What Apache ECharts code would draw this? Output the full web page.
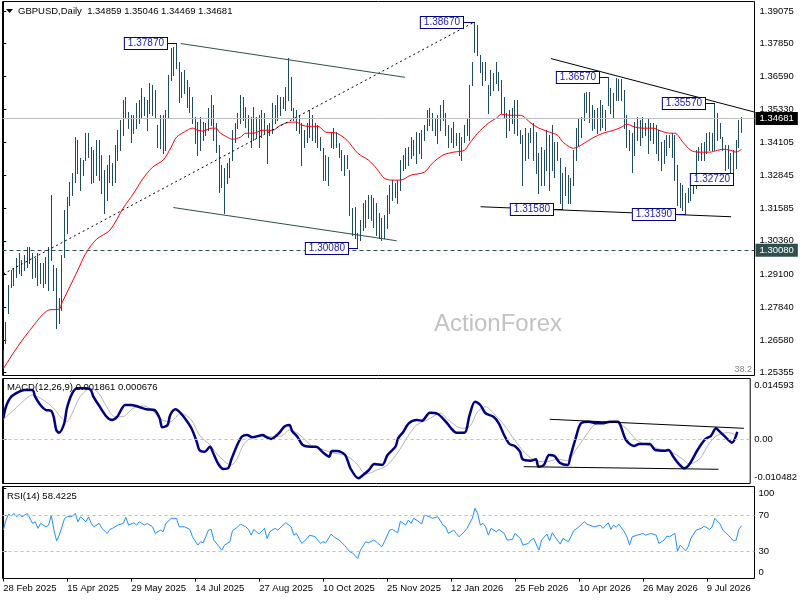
<!DOCTYPE html>
<html><head><meta charset="utf-8">
<script src="https://cdn.jsdelivr.net/npm/echarts@6/dist/echarts.min.js"></script>
<style>html,body{margin:0;padding:0;background:#fff}#c{width:800px;height:600px}</style>
</head><body><div id="c"></div>
<script>
// ---------- DATA ----------
const highs=[1.2621,1.2728,1.2868,1.2925,1.2932,1.2970,1.2989,1.2963,1.2982,1.3012,
1.3012,1.2989,1.2970,1.2989,1.2951,1.2951,1.2974,1.3012,1.3209,1.2944,
1.2932,1.2819,1.2982,1.3152,1.3201,1.3258,1.3292,1.3429,1.3417,1.3349,
1.3342,1.3444,1.3444,1.3391,1.3379,1.3417,1.3417,1.3361,1.3304,1.3323,
1.3361,1.3330,1.3398,1.3455,1.3493,1.3569,1.3580,1.3524,1.3512,1.3512,
1.3558,1.3569,1.3614,1.3580,1.3569,1.3633,1.3626,1.3607,1.3474,1.3512,
1.3512,1.3531,1.3664,1.3766,1.3770,1.3787,1.3713,1.3675,1.3683,1.3645,
1.3618,1.3580,1.3504,1.3486,1.3504,1.3486,1.3482,1.3539,1.3588,1.3550,
1.3482,1.3398,1.3323,1.3311,1.3330,1.3349,1.3455,1.3482,1.3520,1.3588,
1.3580,1.3543,1.3512,1.3504,1.3543,1.3504,1.3512,1.3531,1.3520,1.3474,
1.3482,1.3558,1.3550,1.3588,1.3580,1.3580,1.3618,1.3728,1.3656,1.3539,
1.3531,1.3512,1.3482,1.3455,1.3482,1.3531,1.3512,1.3482,1.3474,1.3429,
1.3387,1.3361,1.3353,1.3448,1.3463,1.3448,1.3406,1.3379,1.3361,1.3361,
1.3304,1.3160,1.3164,1.3065,1.3114,1.3179,1.3190,1.3209,1.3209,1.3198,
1.3179,1.3141,1.3122,1.3133,1.3209,1.3247,1.3266,1.3254,1.3266,1.3342,
1.3361,1.3387,1.3391,1.3429,1.3417,1.3448,1.3444,1.3455,1.3474,1.3531,
1.3539,1.3520,1.3501,1.3512,1.3550,1.3569,1.3520,1.3474,1.3463,1.3486,
1.3444,1.3444,1.3429,1.3474,1.3501,1.3626,1.3713,1.3867,1.3853,1.3740,
1.3713,1.3713,1.3626,1.3683,1.3671,1.3713,1.3675,1.3645,1.3580,1.3520,
1.3531,1.3539,1.3569,1.3569,1.3455,1.3436,1.3463,1.3444,1.3463,1.3482,
1.3448,1.3368,1.3391,1.3379,1.3455,1.3436,1.3474,1.3410,1.3410,1.3349,
1.3292,1.3315,1.3285,1.3273,1.3379,1.3463,1.3501,1.3504,1.3596,1.3599,
1.3599,1.3550,1.3531,1.3539,1.3569,1.3550,1.3531,1.3657,1.3615,1.3596,
1.3652,1.3648,1.3650,1.3607,1.3512,1.3455,1.3444,1.3486,1.3504,1.3493,
1.3504,1.3482,1.3501,1.3482,1.3482,1.3474,1.3455,1.3410,1.3417,1.3436,
1.3436,1.3444,1.3436,1.3323,1.3254,1.3247,1.3217,1.3236,1.3247,1.3292,
1.3379,1.3391,1.3406,1.3410,1.3444,1.3448,1.3444,1.3557,1.3520,1.3482,
1.3429,1.3398,1.3398,1.3368,1.3379,1.3417,1.3493,1.3505];
const lows=[1.2557,1.2648,1.2762,1.2860,1.2868,1.2898,1.2913,1.2906,1.2925,1.2936,
1.2951,1.2894,1.2898,1.2868,1.2875,1.2860,1.2875,1.2849,1.2963,1.2849,
1.2705,1.2724,1.2773,1.2974,1.3065,1.3171,1.3209,1.3258,1.3292,1.3228,
1.3285,1.3342,1.3353,1.3254,1.3258,1.3285,1.3266,1.3217,1.3141,1.3190,
1.3258,1.3247,1.3258,1.3342,1.3379,1.3436,1.3505,1.3463,1.3410,1.3444,
1.3463,1.3482,1.3501,1.3512,1.3455,1.3520,1.3512,1.3501,1.3391,1.3387,
1.3368,1.3379,1.3501,1.3645,1.3664,1.3690,1.3561,1.3580,1.3596,1.3542,
1.3524,1.3482,1.3406,1.3361,1.3379,1.3417,1.3436,1.3455,1.3474,1.3417,
1.3372,1.3220,1.3239,1.3141,1.3254,1.3277,1.3342,1.3410,1.3463,1.3482,
1.3493,1.3467,1.3429,1.3391,1.3417,1.3425,1.3391,1.3429,1.3444,1.3330,
1.3436,1.3444,1.3482,1.3493,1.3512,1.3539,1.3531,1.3569,1.3531,1.3493,
1.3455,1.3444,1.3323,1.3391,1.3410,1.3429,1.3417,1.3410,1.3391,1.3379,
1.3266,1.3266,1.3247,1.3391,1.3387,1.3391,1.3353,1.3304,1.3285,1.3311,
1.3133,1.3057,1.3046,1.3008,1.3038,1.3076,1.3088,1.3122,1.3114,1.3088,
1.3057,1.3046,1.3038,1.3046,1.3084,1.3141,1.3190,1.3201,1.3179,1.3228,
1.3304,1.3311,1.3323,1.3349,1.3361,1.3330,1.3368,1.3349,1.3417,1.3455,
1.3474,1.3455,1.3436,1.3406,1.3455,1.3493,1.3436,1.3391,1.3410,1.3391,
1.3398,1.3361,1.3342,1.3410,1.3436,1.3417,1.3626,1.3751,1.3740,1.3675,
1.3626,1.3645,1.3520,1.3588,1.3607,1.3633,1.3607,1.3520,1.3501,1.3429,
1.3455,1.3482,1.3444,1.3436,1.3406,1.3247,1.3342,1.3349,1.3410,1.3342,
1.3292,1.3217,1.3247,1.3247,1.3304,1.3228,1.3304,1.3277,1.3342,1.3179,
1.3158,1.3209,1.3179,1.3179,1.3247,1.3342,1.3398,1.3429,1.3493,1.3524,
1.3486,1.3455,1.3463,1.3444,1.3455,1.3467,1.3455,1.3550,1.3520,1.3501,
1.3569,1.3569,1.3569,1.3463,1.3391,1.3379,1.3296,1.3361,1.3417,1.3398,
1.3429,1.3436,1.3368,1.3417,1.3406,1.3368,1.3342,1.3304,1.3330,1.3361,
1.3391,1.3353,1.3266,1.3171,1.3164,1.3152,1.3139,1.3182,1.3190,1.3217,
1.3236,1.3342,1.3342,1.3342,1.3368,1.3379,1.3379,1.3379,1.3417,1.3425,
1.3379,1.3304,1.3311,1.3277,1.3272,1.3311,1.3391,1.3447];

const tickIdx=[0,24,48,72,96,120,144,168,192,216,240,264];
const tickLabels=['28 Feb 2025','15 Apr 2025','29 May 2025','14 Jul 2025','27 Aug 2025','10 Oct 2025','25 Nov 2025','12 Jan 2026','25 Feb 2026','10 Apr 2026','26 May 2026','9 Jul 2026'];
const priceTicks=[1.39075,1.37850,1.36590,1.35330,1.34105,1.32845,1.31585,1.30360,1.29100,1.27840,1.26580,1.25355];
const macdTicks=[0.014593,0,-0.010482];
const rsiTicks=[100,70,30,0];

const lastPrice=1.34681, supportLevel=1.30080;

const maIdx=[0,4,10,17,21,22,28,31,35,40,45,49,52,56,60,63,65,69,71,73,75,78,80,81,84,86,89,91,94,97,101,104,108,110,112,115,118,121,125,129,133,137,140,143,146,149,153,158,161,165,169,173,175,178,182,185,187,190,194,198,201,205,208,210,214,218,221,225,229,232,234,237,240,244,246,250,252,255,258,261,265,268,270,273,275,277];
const maVal=[1.2550,1.2614,1.2697,1.2773,1.2777,1.2800,1.2925,1.2989,1.3042,1.3076,1.3160,1.3217,1.3266,1.3315,1.3342,1.3391,1.3429,1.3455,1.3463,1.3455,1.3452,1.3463,1.3463,1.3448,1.3429,1.3421,1.3429,1.3444,1.3444,1.3455,1.3455,1.3474,1.3486,1.3486,1.3474,1.3470,1.3470,1.3448,1.3444,1.3417,1.3368,1.3342,1.3311,1.3273,1.3266,1.3266,1.3285,1.3296,1.3330,1.3361,1.3372,1.3379,1.3406,1.3444,1.3482,1.3501,1.3516,1.3512,1.3512,1.3482,1.3463,1.3448,1.3436,1.3410,1.3387,1.3406,1.3425,1.3444,1.3455,1.3467,1.3478,1.3467,1.3463,1.3463,1.3455,1.3444,1.3444,1.3410,1.3379,1.3372,1.3372,1.3379,1.3383,1.3379,1.3372,1.3383];

const macdIdx=[0,1,3,6,8,11,12,14,16,18,19,20,21,23,24,26,28,31,33,34,36,39,41,43,46,48,51,54,57,59,60,62,63,65,67,69,71,73,74,76,78,79,81,83,85,86,88,90,92,94,98,99,101,104,106,108,109,111,113,116,118,121,123,124,126,129,131,134,135,138,140,143,145,148,149,151,153,156,158,161,164,167,169,171,174,176,178,180,182,185,187,189,191,193,195,196,199,201,202,204,206,208,210,213,214,216,218,221,224,226,229,232,233,235,238,240,244,246,250,251,253,255,257,259,262,265,267,269,270,273,275,277];
const macdVal=[0.00509,0.00786,0.01025,0.01144,0.01185,0.01185,0.01025,0.00827,0.00707,0.00690,0.00547,0.00229,0.00165,0.00389,0.00748,0.01106,0.01225,0.01225,0.01185,0.01025,0.00827,0.00547,0.00468,0.00547,0.00827,0.00827,0.00786,0.00724,0.00707,0.00509,0.00294,0.00349,0.00588,0.00724,0.00628,0.00468,0.00270,-0.00050,-0.00248,-0.00289,-0.00169,-0.00289,-0.00566,-0.00702,-0.00671,-0.00487,-0.00169,0.00069,0.00110,0.00055,0.00110,0.00069,0.00015,0.00151,0.00308,0.00349,0.00206,0.00069,-0.00129,-0.00169,-0.00169,-0.00327,-0.00408,-0.00272,-0.00272,-0.00368,-0.00685,-0.00924,-0.00886,-0.00726,-0.00583,-0.00606,-0.00368,-0.00169,0.00031,0.00189,0.00389,0.00468,0.00452,0.00643,0.00612,0.00428,0.00270,0.00165,0.00165,0.00588,0.00905,0.00827,0.00628,0.00547,0.00389,0.00110,-0.00105,-0.00153,-0.00289,-0.00470,-0.00504,-0.00470,-0.00647,-0.00606,-0.00368,-0.00391,-0.00551,-0.00606,-0.00408,0.00031,0.00389,0.00428,0.00389,0.00389,0.00428,0.00428,0.00325,-0.00009,-0.00153,-0.00105,-0.00105,-0.00248,-0.00265,-0.00248,-0.00423,-0.00583,-0.00685,-0.00583,-0.00248,0.00015,0.00086,0.00270,0.00213,0.00031,-0.00074,0.00186];

const sigIdx=[0,4,8,11,15,19,22,24,26,29,33,36,39,42,45,49,53,56,60,63,67,71,74,78,81,86,88,91,95,100,105,108,112,116,121,125,129,133,137,141,145,149,153,156,160,165,168,173,176,179,182,185,189,193,197,201,205,209,213,216,220,223,226,231,235,239,243,248,251,256,259,263,266,269,273,275,277];
const sigVal=[0.00485,0.00707,0.00946,0.01065,0.00946,0.00748,0.00509,0.00428,0.00628,0.01025,0.01225,0.01106,0.00786,0.00547,0.00547,0.00748,0.00803,0.00707,0.00468,0.00428,0.00628,0.00468,0.00110,-0.00129,-0.00368,-0.00606,-0.00487,-0.00088,0.00069,0.00069,0.00086,0.00229,0.00110,-0.00129,-0.00248,-0.00327,-0.00368,-0.00551,-0.00821,-0.00726,-0.00606,-0.00296,0.00110,0.00349,0.00468,0.00628,0.00468,0.00270,0.00308,0.00666,0.00786,0.00628,0.00349,-0.00009,-0.00327,-0.00504,-0.00528,-0.00470,-0.00504,-0.00248,0.00110,0.00349,0.00404,0.00404,0.00270,-0.00009,-0.00129,-0.00232,-0.00265,-0.00446,-0.00583,-0.00446,-0.00129,0.00086,0.00165,0.00151,0.00068];

const rsiIdx=[0,1,2,3,4,5,6,7,9,11,12,13,14,16,17,18,19,20,21,22,23,24,26,27,28,29,31,32,33,34,36,37,39,40,41,43,45,46,47,49,50,51,53,54,56,57,59,60,61,63,65,66,68,70,71,73,74,75,77,78,79,81,82,83,85,86,88,89,91,92,93,94,96,98,99,100,102,103,105,106,108,109,110,112,114,115,117,119,120,121,123,124,126,128,130,131,133,134,136,137,139,140,142,143,145,146,148,149,151,152,153,154,156,157,158,160,161,163,165,166,167,169,170,171,173,174,176,177,178,179,180,181,182,183,185,186,188,189,191,192,194,195,197,198,199,201,202,204,205,206,207,209,210,212,213,214,216,218,219,221,222,224,225,227,228,229,230,231,233,234,235,236,238,240,241,243,245,246,248,249,250,252,253,254,256,257,258,260,262,263,265,266,267,269,270,272,274,275,276,277];
const rsiVal=[53.7,64.8,71.4,69.2,72.2,68.4,71.4,68.4,72.2,61.1,62.9,55.6,61.1,57.3,59.2,70.3,53.7,41.8,48.1,57.3,66.7,68.4,69.2,72.2,62.9,68.4,62.9,68.4,61.1,57.3,61.1,55.6,50,54.4,55.6,59.2,61.1,67.8,59.2,61.8,59.2,62.9,59.2,61.1,57.3,50,53.7,51.8,61.1,66.7,66.7,57.3,57.3,54.4,46.3,37,40.7,39.6,53.7,54.4,42.6,35.1,31.4,37,40.7,52.9,57.3,60.3,57.3,54.4,48.1,54.4,49.2,55.6,44.4,51.8,55.6,53.7,59.2,61.8,57.3,48.1,50,38.9,44.4,48.1,46.3,38.9,40.7,39.6,49.2,46.3,42.6,37,29.6,28.5,22.2,31.4,40.7,39.6,42.6,40.7,35.1,40.7,53.7,54.4,50.7,63.5,59.2,64.8,61.1,66.7,62.9,60.3,70.3,68.4,66.7,68.4,59.2,57.3,50,53.7,50,46.3,51.8,55.6,66.7,77.8,72.2,59.2,61.1,57.3,48.1,55.6,51.8,54.4,50,42.6,43.3,50,44.4,37,38.9,42.6,44.4,31.4,42.6,49.2,41.8,50.7,46.3,38.1,44.4,40.7,46.3,52.9,57.3,62.9,60.3,58.1,57.3,59.2,55.6,61.8,54.4,59.2,56.7,60.3,51.8,46.3,37,46.3,48.1,50,48.1,50,48.1,38.9,42.6,47,46.3,50,30.3,37,30.7,35.1,44.4,53.7,55.6,58.1,54.4,57.3,66.7,60.3,53.7,48.1,41.8,42.6,54.4,58.4];

// trend lines: [startIndex, startValue, endIndex, endValue]
const dottedTrend=[0,1.2910,176.5,1.3864];
const channelUpper=[66.6,1.3784,150.7,1.3656];
const channelLower=[63.8,1.3162,147.6,1.3036];
const fallingTrend=[205.5,1.3727,281.9,1.3524];
const supportTrend=[179.1,1.3165,273.1,1.3127];
const macdUpper=[206.2,0.00485,279.5,0.00270];
const macdLower=[196.4,-0.00647,269.9,-0.00709];

// price annotations
const noteIdx=[65,177,133,210,227,267,274,256];
const notePrice=[1.37870,1.38670,1.30080,1.31580,1.36570,1.35570,1.32720,1.31390];
const noteGap=[10,12,10,10,9,10,1,11]; // style: distance of box from bar

// ---------- CHART ----------
const FONT='"Liberation Sans", Arial, sans-serif';
const BAR='#1f4a5f';
const chart=echarts.init(document.getElementById('c'),null,{renderer:'canvas'});
const L=2.5,R=45.5,XMIN=-0.3,XMAX=281.88;
const pair=(a,b)=>a.map((v,k)=>[v,b[k]]);
const seg=(t)=>[[t[0],t[1]],[t[2],t[3]]];
const lbl={fontFamily:FONT,fontSize:9.5,color:'#000'};

function xAx(g){
  return {type:'value',gridIndex:g,min:XMIN,max:XMAX,splitLine:{show:false},axisLine:{show:false},
    axisTick:{show:g===2,customValues:tickIdx,length:3,lineStyle:{color:'#000'}},
    axisLabel:Object.assign({show:g===2,customValues:tickIdx,align:'left',margin:5,
      formatter:v=>{const k=tickIdx.indexOf(Math.round(v));return k<0?'':tickLabels[k];}},lbl)};
}
function trend(t,g,style){
  return {type:'line',xAxisIndex:g,yAxisIndex:g,data:seg(t),symbol:'none',silent:true,z:4,lineStyle:style,animation:false};
}
const option={
  animation:false,
  backgroundColor:'#fff',
  grid:[
    {left:L,right:R,top:1.5,height:374,show:true,borderColor:'#000',borderWidth:1,backgroundColor:'#fff'},
    {left:L,right:R,top:378.5,height:105,show:true,borderColor:'#000',borderWidth:1,backgroundColor:'#fff'},
    {left:L,right:R,top:486.5,height:92,show:true,borderColor:'#000',borderWidth:1,backgroundColor:'#fff'}
  ],
  xAxis:[xAx(0),xAx(1),xAx(2)],
  yAxis:[
    {type:'value',gridIndex:0,position:'right',min:1.25249,max:1.39435,splitLine:{show:false},
     axisLine:{show:true,lineStyle:{color:'#000'}},
     axisTick:{show:true,length:3,customValues:priceTicks,lineStyle:{color:'#000'}},
     axisLabel:Object.assign({customValues:priceTicks,margin:5,formatter:v=>v.toFixed(5)},lbl)},
    {type:'value',gridIndex:1,position:'right',min:-0.010482,max:0.014593,splitLine:{show:false},
     axisLine:{show:true,lineStyle:{color:'#000'}},
     axisTick:{show:true,length:3,customValues:macdTicks,lineStyle:{color:'#000'}},
     axisLabel:Object.assign({customValues:macdTicks,margin:4,
       formatter:v=>v>0.01?'{t|'+v.toFixed(6)+'}':(v<-0.01?'{b|'+v.toFixed(6)+'}':'0.00'),
       rich:{t:Object.assign({padding:[13,0,0,0]},lbl),b:Object.assign({padding:[0,0,12,0]},lbl)}},lbl)},
    {type:'value',gridIndex:2,position:'right',min:0,max:102,splitLine:{show:false},
     axisLine:{show:true,lineStyle:{color:'#000'}},
     axisTick:{show:true,length:3,customValues:rsiTicks,lineStyle:{color:'#000'}},
     axisLabel:Object.assign({customValues:rsiTicks,margin:4,
       formatter:v=>v===100?'{t|100}':(v===0?'{b|0}':String(v)),
       rich:{t:Object.assign({padding:[10,0,0,0]},lbl),b:Object.assign({padding:[0,0,12,0]},lbl)}},lbl)}
  ],
  graphic:[
    {type:'polygon',shape:{points:[[6,9],[13,9],[9.5,13]]},style:{fill:'#000'},z:50},
    {type:'text',x:18,y:11,z:50,style:{text:'GBPUSD,Daily  1.34859 1.35046 1.34469 1.34681',font:'9.5px '+FONT,fill:'#000',verticalAlign:'middle'}},
    {type:'text',x:7,y:387.5,z:50,style:{text:'MACD(12,26,9) 0.001861 0.000676',font:'9.5px '+FONT,fill:'#000',verticalAlign:'middle'}},
    {type:'text',x:7,y:496,z:50,style:{text:'RSI(14) 58.4225',font:'9.5px '+FONT,fill:'#000',verticalAlign:'middle'}},
    {type:'text',x:434,y:324,z:0,style:{text:'ActionForex',font:'24px '+FONT,fill:'#c2c2c2',verticalAlign:'middle'}},
    {type:'text',x:752,y:369.5,z:50,style:{text:'38.2',font:'9px '+FONT,fill:'#808080',align:'right',verticalAlign:'middle'}}
  ],
  series:[
    {type:'line',xAxisIndex:0,yAxisIndex:0,data:[],z:1,silent:true,
     markLine:{symbol:['none','none'],silent:true,animation:false,data:[
       {yAxis:lastPrice,lineStyle:{color:'#c0c0c0',type:'solid',width:1},
        label:{show:true,position:'end',distance:1,formatter:lastPrice.toFixed(5),color:'#fff',backgroundColor:'#000',padding:[2,4,1,4],fontSize:9.5,fontFamily:FONT}},
       {yAxis:supportLevel,lineStyle:{color:'#2f4f4f',type:[4,3],width:1},
        label:{show:true,position:'end',distance:1,formatter:supportLevel.toFixed(5),color:'#fff',backgroundColor:'#2f4f4f',padding:[2,4,1,4],fontSize:9.5,fontFamily:FONT}}
     ]}},
    {type:'custom',xAxisIndex:0,yAxisIndex:0,z:2,silent:true,clip:true,
     data:highs.map((h,i)=>[i,h,lows[i]]),encode:{x:0,y:[1,2]},
     renderItem:(p,api)=>{
       const a=api.coord([api.value(0),api.value(1)]),b=api.coord([api.value(0),api.value(2)]);
       const x=Math.floor(a[0])+0.5;
       return {type:'line',shape:{x1:x,y1:Math.round(a[1]),x2:x,y2:Math.round(b[1])+1},style:{stroke:BAR,lineWidth:1}};
     }},
    {type:'line',xAxisIndex:0,yAxisIndex:0,data:pair(maIdx,maVal),symbol:'none',smooth:0.3,z:3,silent:true,
     lineStyle:{color:'#ff0000',width:1}},
    trend(dottedTrend,0,{color:'#000',width:1,type:[2,3]}),
    trend(channelUpper,0,{color:'#2f4f4f',width:1,type:'solid'}),
    trend(channelLower,0,{color:'#2f4f4f',width:1,type:'solid'}),
    trend(fallingTrend,0,{color:'#000',width:1,type:'solid'}),
    trend(supportTrend,0,{color:'#000',width:1,type:'solid'}),
    {type:'custom',xAxisIndex:0,yAxisIndex:0,z:10,silent:true,clip:false,
     data:pair(noteIdx,notePrice),encode:{x:0,y:1},
     renderItem:(p,api)=>{
       const c=api.coord([api.value(0),api.value(1)]);
       const k=p.dataIndex;
       const y=Math.round(c[1])+0.5, bx=Math.round(c[0])-noteGap[k];
       return {type:'group',children:[
         {type:'line',shape:{x1:bx,y1:y,x2:Math.round(c[0]),y2:y},style:{stroke:'#000080',lineWidth:1}},
         {type:'text',x:bx,y:y,style:{text:notePrice[k].toFixed(5),align:'right',verticalAlign:'middle',
           font:'10px '+FONT,fill:'#1c1ca8',backgroundColor:'#fff',borderColor:'#000080',borderWidth:1,padding:[1,3,0,3]}}
       ]};
     }},
    // MACD
    {type:'line',xAxisIndex:1,yAxisIndex:1,data:[],z:1,silent:true,
     markLine:{symbol:['none','none'],silent:true,animation:false,label:{show:false},
       data:[{yAxis:0}],lineStyle:{color:'#c0c0c0',type:[3,3],width:1}}},
    {type:'line',xAxisIndex:1,yAxisIndex:1,data:pair(sigIdx,sigVal),symbol:'none',smooth:0.3,z:3,silent:true,
     lineStyle:{color:'#b4b4b4',width:1}},
    {type:'line',xAxisIndex:1,yAxisIndex:1,data:pair(macdIdx,macdVal),symbol:'none',smooth:0.3,z:4,silent:true,
     lineStyle:{color:'#000080',width:2.5}},
    trend(macdUpper,1,{color:'#000',width:1,type:'solid'}),
    trend(macdLower,1,{color:'#000',width:1,type:'solid'}),
    // RSI
    {type:'line',xAxisIndex:2,yAxisIndex:2,data:[],z:1,silent:true,
     markLine:{symbol:['none','none'],silent:true,animation:false,label:{show:false},
       data:[{yAxis:70},{yAxis:30}],lineStyle:{color:'#c0c0c0',type:[3,3],width:1}}},
    {type:'line',xAxisIndex:2,yAxisIndex:2,data:pair(rsiIdx,rsiVal),symbol:'none',z:3,silent:true,
     lineStyle:{color:'#1e90ff',width:1}}
  ]
};
chart.setOption(option);
</script></body></html>
